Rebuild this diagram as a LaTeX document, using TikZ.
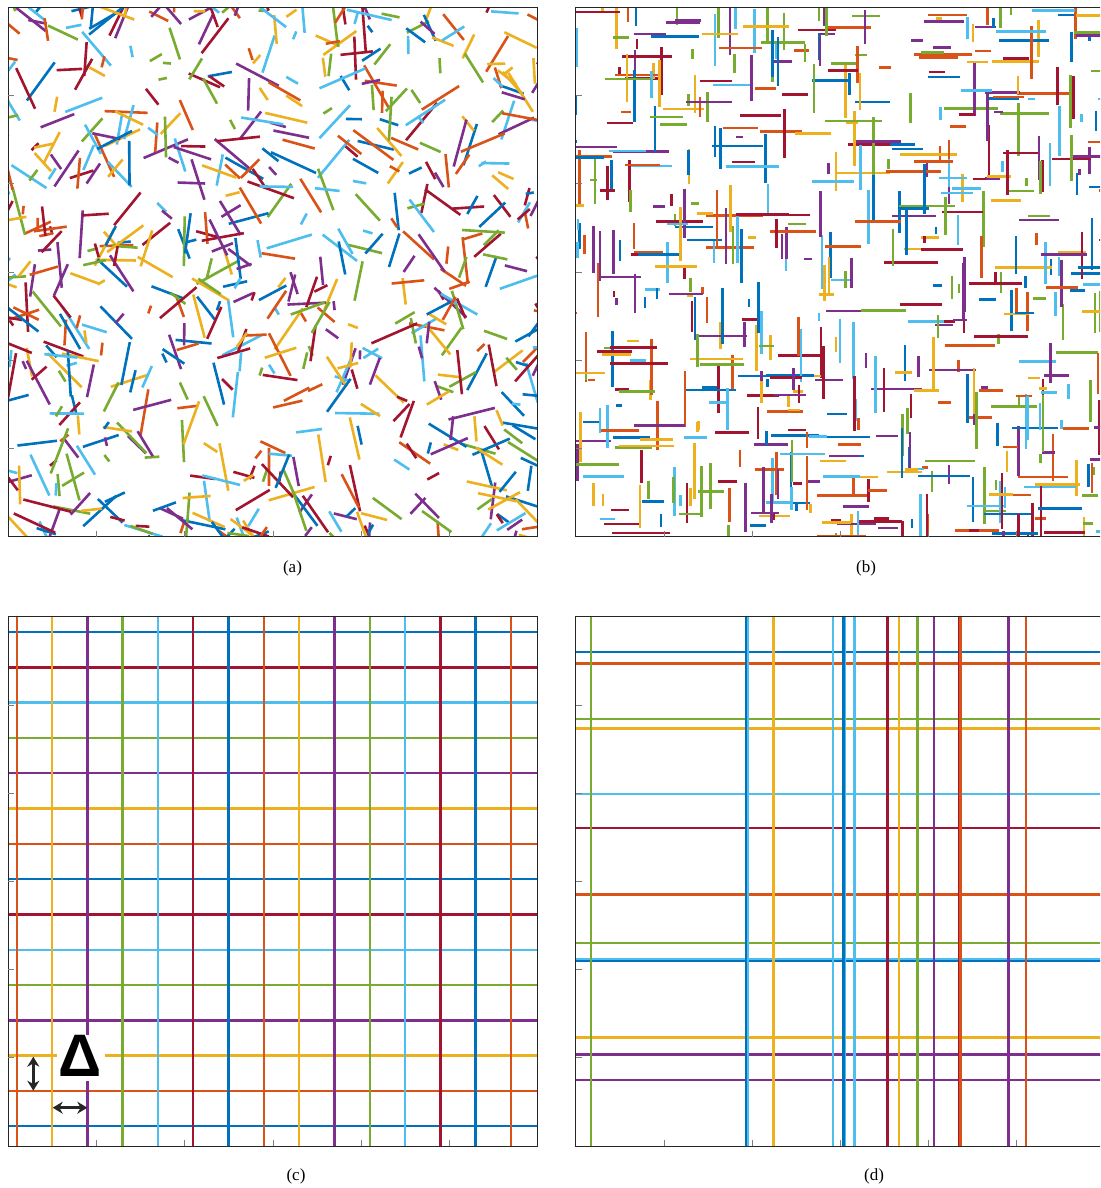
\documentclass[tikz,border=0pt]{standalone}
\usepackage{fontspec}
\setmainfont{Liberation Serif}
\newfontfamily\deltafont{Liberation Sans}
\usetikzlibrary{arrows.meta}
\definecolor{matblue}{HTML}{0072BD}
\definecolor{matorange}{HTML}{D95319}
\definecolor{matyellow}{HTML}{EDB120}
\definecolor{matpurple}{HTML}{7E2F8E}
\definecolor{matgreen}{HTML}{77AC30}
\definecolor{matcyan}{HTML}{4DBEEE}
\definecolor{matred}{HTML}{A2142F}
\definecolor{axisgray}{HTML}{262626}
\colorlet{cyc0}{matblue}
\colorlet{cyc1}{matorange}
\colorlet{cyc2}{matyellow}
\colorlet{cyc3}{matpurple}
\colorlet{cyc4}{matgreen}
\colorlet{cyc5}{matcyan}
\colorlet{cyc6}{matred}
\tikzset{
  segment/.style={line width=2.6pt},
  gridline/.style={line width=2.4pt},
  axisframe/.style={draw=axisgray, line width=1.1pt},
  axistick/.style={draw=axisgray!60, line width=0.8pt},
  caption/.style={font=\fontsize{17}{20}\selectfont, inner sep=0pt},
  spacing/.style={{Stealth[length=10pt,width=12pt]}-{Stealth[length=10pt,width=12pt]}, line width=3pt, draw=black!85},
}

\begin{document}
\begin{tikzpicture}[x=1pt, y=-1pt]
\clip (0,0) rectangle (1100,1188);
\fill[white] (0,0) rectangle (1100,1188);

% (a) segments with random orientation
\begin{scope}
\clip (8.3,7.3) rectangle (537.7,536.7);
\pgfmathsetseed{4242}
\foreach \i in {1,...,790}{
  \pgfmathsetmacro{\sx}{-22+590*rnd}
  \pgfmathsetmacro{\sy}{-22+590*rnd}
  \pgfmathsetmacro{\ang}{360*rnd}
  \pgfmathsetmacro{\len}{8+42*rnd}
  \pgfmathtruncatemacro{\ci}{mod(\i,7)}
  \draw[segment, cyc\ci] (\sx,\sy) -- ++(\ang:\len);
}
\end{scope}

% (b) horizontal and vertical segments
\begin{scope}
\clip (575.7,7.3) rectangle (1105,536.7);
\pgfmathsetseed{977}
\foreach \i in {1,...,760}{
  \pgfmathsetmacro{\sx}{545+590*rnd}
  \pgfmathsetmacro{\sy}{-22+590*rnd}
  \pgfmathsetmacro{\ang}{90*int(4*rnd)}
  \pgfmathsetmacro{\len}{6+52*rnd}
  \pgfmathtruncatemacro{\ci}{mod(\i,7)}
  \draw[segment, cyc\ci] (\sx,\sy) -- ++(\ang:\len);
}
\end{scope}

% (c) regular grid
\begin{scope}
\clip (8.3,616.7) rectangle (537.7,1146);
\foreach \k in {0,...,14}{
  \pgfmathsetmacro{\yy}{1126.2-35.3*\k}
  \pgfmathtruncatemacro{\ci}{mod(\k,7)}
  \draw[gridline, cyc\ci] (8.3,\yy) -- (537.7,\yy);
}
\foreach \k in {0,...,14}{
  \pgfmathsetmacro{\xx}{16.7+35.3*\k}
  \pgfmathtruncatemacro{\ci}{mod(\k+1,7)}
  \draw[gridline, cyc\ci] (\xx,616.7) -- (\xx,1146);
}
\end{scope}

% spacing label
\node[fill=white, minimum width=48.6pt, minimum height=46pt, inner sep=0pt] (deltabox) at (81,1058) {};
\node[inner sep=0pt, font=\deltafont\bfseries\fontsize{60}{60}\selectfont] (delta) at (80.5,1056) {Δ};
\coordinate (vtop) at (33.3,1056.7);
\coordinate (vbot) at (33.3,1090.7);
\coordinate (hleft) at (52.7,1107.7);
\coordinate (hright) at (87.3,1107.7);
\draw[spacing] (vtop) -- (vbot);
\draw[spacing] (hleft) -- (hright);

% (d) irregular grid
\begin{scope}
\clip (575.7,616.7) rectangle (1105,1146);
\foreach \yy/\cc in {652/matblue, 663.3/matorange, 718.7/matgreen, 728.3/matyellow,
    794/matcyan, 827.7/matred, 894.3/matorange, 942.7/matgreen, 959.6/matcyan,
    961/matblue, 1037.3/matyellow, 1054.3/matpurple, 1080/matpurple}{
  \draw[gridline, \cc] (575.7,\yy) -- (1105,\yy);
}
\foreach \xx/\cc in {590.7/matgreen, 747.4/matcyan, 746/matblue, 773.3/matyellow,
    832.7/matcyan, 844.6/matcyan, 843.3/matblue, 854.3/matcyan, 887.3/matred,
    898.7/matyellow, 917.3/matgreen, 934/matpurple, 959.3/matred, 960.5/matorange,
    1008.3/matpurple, 1026/matorange}{
  \draw[gridline, \cc] (\xx,616.7) -- (\xx,1146);
}
\end{scope}

% axes with ticks
\foreach \px/\py in {8.3/7.3, 575.7/7.3, 8.3/616.7, 575.7/616.7}{
  \draw[axisframe] (\px,\py) rectangle ++(529.4,529.4);
  \foreach \t in {1,...,5}{
    \draw[axistick] (\px,\py+88.2*\t) -- ++(6,0);
    \draw[axistick] (\px+88.2*\t,\py+529.4) -- ++(0,-6);
  }
}

% captions
\node[caption] (capa) at (292.5,568) {(a)};
\node[caption] (capb) at (866,568) {(b)};
\node[caption] (capc) at (296,1176) {(c)};
\node[caption] (capd) at (874,1176) {(d)};

\end{tikzpicture}
\end{document}
